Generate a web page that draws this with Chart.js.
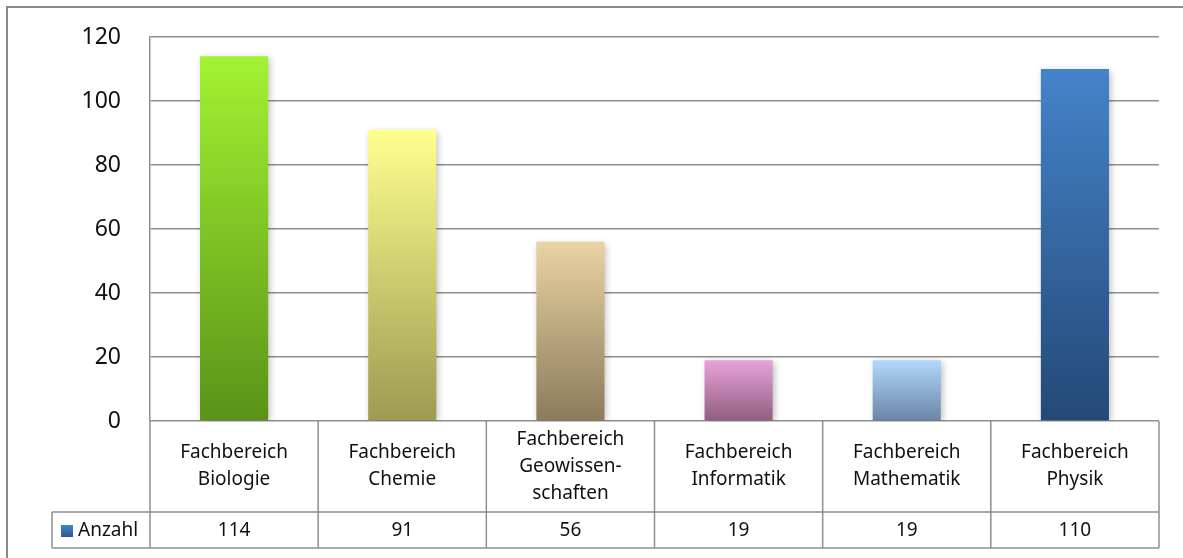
<!DOCTYPE html>
<html>
<head>
<title>Fachbereiche</title>
<style>
  html, body { margin: 0; padding: 0; background: #fff; }
  #wrap { width: 1183px; height: 558px; position: relative; }
</style>
</head>
<body>
<div id="wrap"><canvas id="chart" width="1183" height="558"></canvas></div>
<script src="https://cdn.jsdelivr.net/npm/chart.js"></script>
<script>
// data
const categories = [
  ['Fachbereich', 'Biologie'],
  ['Fachbereich', 'Chemie'],
  ['Fachbereich', 'Geowissen-', 'schaften'],
  ['Fachbereich', 'Informatik'],
  ['Fachbereich', 'Mathematik'],
  ['Fachbereich', 'Physik']
];
const seriesName = 'Anzahl';
const values = [114, 91, 56, 19, 19, 110];
const yTicks = [0, 20, 40, 60, 80, 100, 120];

// top / bottom colours of each bar gradient
const topColors = ['#a3f232', '#ffff8f', '#ead3a3', '#eaa2da', '#b2d8fb', '#4583c9'];
const bottomColors = ['#5a9217', '#9c9b51', '#8b7b5b', '#8f5e80', '#6985a6', '#234976'];

const FONT = '"Noto Sans", "Open Sans", sans-serif';
const GRID = '#8e8e8e';

function barGradient(context) {
  const chart = context.chart;
  const i = context.dataIndex;
  if (!chart.chartArea || i === undefined) return topColors[0];
  const y = chart.scales.y;
  const top = y.getPixelForValue(values[i]);
  const bottom = y.getPixelForValue(0);
  const g = chart.ctx.createLinearGradient(0, top, 0, bottom);
  g.addColorStop(0, topColors[i]);
  g.addColorStop(1, bottomColors[i]);
  return g;
}

// shadow for the bars
const shadowPlugin = {
  id: 'barShadow',
  beforeDatasetsDraw(chart) {
    const ctx = chart.ctx;
    ctx.save();
    ctx.shadowColor = 'rgba(0,0,0,0.28)';
    ctx.shadowBlur = 7;
    ctx.shadowOffsetX = 2;
    ctx.shadowOffsetY = 2;
  },
  afterDatasetsDraw(chart) {
    chart.ctx.restore();
  }
};

// outer frame + data table under the plot
const tablePlugin = {
  id: 'dataTable',
  afterDraw(chart) {
    const ctx = chart.ctx;
    const area = chart.chartArea;
    const x = chart.scales.x;
    const left = area.left, right = area.right;
    const top = area.bottom;
    const mid = top + 91;
    const bottom = mid + 36;
    const legendLeft = 52;
    const colW = (right - left) / categories.length;

    ctx.save();
    // frame of the whole chart
    ctx.strokeStyle = '#8a8a8a';
    ctx.lineWidth = 2;
    ctx.beginPath();
    ctx.moveTo(7, 560);
    ctx.lineTo(7, 7);
    ctx.lineTo(1190, 7);
    ctx.stroke();

    ctx.strokeStyle = GRID;
    ctx.lineWidth = 1.5;
    ctx.beginPath();
    // horizontal lines
    ctx.moveTo(legendLeft, mid); ctx.lineTo(right, mid);
    ctx.moveTo(legendLeft, bottom); ctx.lineTo(right, bottom);
    // legend cell left side
    ctx.moveTo(legendLeft, mid); ctx.lineTo(legendLeft, bottom);
    // column dividers
    for (let i = 0; i <= categories.length; i++) {
      const cx = left + i * colW;
      ctx.moveTo(cx, top); ctx.lineTo(cx, bottom);
    }
    ctx.stroke();

    // category labels
    ctx.fillStyle = '#111';
    ctx.font = '19px ' + FONT;
    ctx.textAlign = 'center';
    ctx.textBaseline = 'middle';
    const lineH = 27;
    categories.forEach((lines, i) => {
      const cx = x.getPixelForValue(i);
      const cy = (top + mid) / 2;
      const start = cy - (lines.length - 1) * lineH / 2;
      lines.forEach((t, j) => ctx.fillText(t, cx, start + j * lineH));
    });
    // values row
    const vy = (mid + bottom) / 2 + 1;
    values.forEach((v, i) => ctx.fillText(String(v), x.getPixelForValue(i), vy));

    // legend key
    const kg = ctx.createLinearGradient(0, vy - 6, 0, vy + 6);
    kg.addColorStop(0, '#4583c9');
    kg.addColorStop(1, '#2a5a94');
    ctx.fillStyle = kg;
    ctx.fillRect(61, vy - 6, 12, 12);
    ctx.fillStyle = '#111';
    ctx.textAlign = 'left';
    ctx.fillText(seriesName, 78, vy);
    ctx.restore();
  }
};

new Chart(document.getElementById('chart'), {
  type: 'bar',
  data: {
    labels: categories.map(c => c.join(' ')),
    datasets: [{
      label: seriesName,
      data: values,
      backgroundColor: barGradient,
      borderWidth: 0,
      barPercentage: 0.405,
      categoryPercentage: 1
    }]
  },
  plugins: [shadowPlugin, tablePlugin],
  options: {
    responsive: false,
    animation: false,
    layout: { padding: { left: 0, right: 24, top: 37, bottom: 137 } },
    plugins: {
      legend: { display: false },
      tooltip: { enabled: false }
    },
    scales: {
      x: { display: false },
      y: {
        min: 0,
        max: 120,
        afterFit(scale) {
          scale.width = 150;
          scale.paddingTop = 0;
          scale.paddingBottom = 0;
        },
        afterBuildTicks(scale) { scale.ticks = yTicks.map(v => ({ value: v })); },
        border: { display: true, color: GRID, width: 1.5 },
        grid: { color: GRID, lineWidth: 1.5, drawTicks: false },
        ticks: {
          padding: 29,
          color: '#111',
          font: { size: 23, family: FONT }
        }
      }
    }
  }
});
</script>
</body>
</html>
